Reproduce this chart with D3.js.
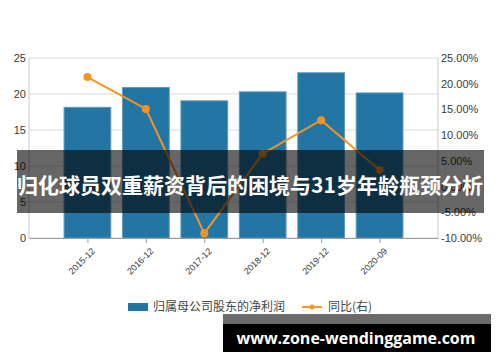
<!DOCTYPE html>
<meta charset="utf-8">
<style>
body { margin: 0; background: white; }
svg { display: block; font-family: "DejaVu Sans", sans-serif; }
.grid line { stroke: #dcdcdc; }
.axis text { fill: #3a3a3a; }
</style>
<body>
<div id="chart"></div>
<script src="https://d3js.org/d3.v7.min.js"></script>
<script>
// data
var periods = ["2015-12", "2016-12", "2017-12", "2018-12", "2019-12", "2020-09"];
var profit = [18.15, 20.9, 19.05, 20.3, 22.95, 20.15];     // 归属母公司股东的净利润
var yoy = [21.3, 15.1, -9.1, 6.4, 12.9, 3.2];                // 同比(右), %
var leftTicks = [0, 5, 10, 15, 20, 25];
var rightTicks = [-10, -5, 0, 5, 10, 15, 20, 25];
var titleText = "归化球员双重薪资背后的困境与31岁年龄瓶颈分析";
var siteText = "www.zone-wendinggame.com";

var width = 500, height = 362;
var margin = {top: 58, right: 62, bottom: 124, left: 29};
var w = width - margin.left - margin.right,
    h = height - margin.top - margin.bottom;

var svg = d3.select("#chart").append("svg")
    .attr("width", width)
    .attr("height", height);

var g = svg.append("g")
    .attr("transform", "translate(" + margin.left + "," + margin.top + ")");

var x = d3.scalePoint().domain(periods).range([0, w]).padding(1);
var barW = x.step() * 0.8;

var y = d3.scaleLinear().domain([0, 25]).range([h, 0]);
var y2 = d3.scaleLinear().domain([-10, 25]).range([h, 0]);

// horizontal grid
g.append("g").attr("class", "grid")
  .selectAll("line").data(leftTicks).enter().append("line")
    .attr("x1", 0).attr("x2", w)
    .attr("y1", d => y(d)).attr("y2", d => y(d));

// side axis lines
g.append("line").attr("x1", 0).attr("x2", 0).attr("y1", 0).attr("y2", h)
  .attr("stroke", "#c8c8c8");
g.append("line").attr("x1", w).attr("x2", w).attr("y1", 0).attr("y2", h)
  .attr("stroke", "#c8c8c8");

// bars
g.selectAll("rect.bar").data(periods).enter().append("rect")
    .attr("class", "bar")
    .attr("x", d => x(d) - barW / 2)
    .attr("width", barW)
    .attr("y", (d, i) => y(profit[i]))
    .attr("height", (d, i) => h - y(profit[i]))
    .attr("fill", "#2376a3")
    .attr("stroke", "#5b9cc0")
    .attr("stroke-width", 1);

// bottom axis
var xAxis = g.append("g").attr("class", "axis")
    .attr("transform", "translate(0," + h + ")")
    .call(d3.axisBottom(x).tickSize(5).tickSizeOuter(0));
xAxis.select(".domain").attr("stroke", "#9a9a9a");
xAxis.selectAll(".tick line").attr("stroke", "#9a9a9a");
xAxis.selectAll("text")
    .style("font-size", "9px")
    .attr("text-anchor", "end")
    .attr("dx", 0).attr("dy", 0)
    .attr("transform", "translate(2,8) rotate(-45)");

// left axis
var yAxis = g.append("g").attr("class", "axis")
    .call(d3.axisLeft(y).tickValues(leftTicks).tickSize(0).tickPadding(3));
yAxis.select(".domain").remove();
yAxis.selectAll("text").style("font-size", "11px");

// right axis
var yAxis2 = g.append("g").attr("class", "axis")
    .attr("transform", "translate(" + w + ",0)")
    .call(d3.axisRight(y2).tickValues(rightTicks).tickSize(0).tickPadding(3)
      .tickFormat(d => d.toFixed(2) + "%"));
yAxis2.select(".domain").remove();
yAxis2.selectAll("text").style("font-size", "11px");

// yoy line
var line = d3.line()
    .x((d, i) => x(periods[i]))
    .y(d => y2(d));
g.append("path").datum(yoy)
    .attr("d", line)
    .attr("fill", "none")
    .attr("stroke", "#f59422")
    .attr("stroke-width", 2);
g.selectAll("circle.pt").data(yoy).enter().append("circle")
    .attr("class", "pt")
    .attr("cx", (d, i) => x(periods[i]))
    .attr("cy", d => y2(d))
    .attr("r", 4)
    .attr("fill", "#f59422");

// legend
var lg = svg.append("g").attr("transform", "translate(128,307)");
lg.append("rect").attr("x", 0).attr("y", -4).attr("width", 20).attr("height", 8)
  .attr("fill", "#2376a3");
lg.append("text").attr("x", 25).attr("y", 4)
  .style("font-family", "'Noto Sans CJK SC', sans-serif")
  .style("font-size", "12px").attr("fill", "#444")
  .text("归属母公司股东的净利润");
lg.append("line").attr("x1", 174).attr("x2", 194).attr("y1", 0).attr("y2", 0)
  .attr("stroke", "#f59422").attr("stroke-width", 2);
lg.append("circle").attr("cx", 184).attr("cy", 0).attr("r", 2.5).attr("fill", "#f59422");
lg.append("text").attr("x", 200).attr("y", 4)
  .style("font-family", "'Noto Sans CJK SC', sans-serif")
  .style("font-size", "12px").attr("fill", "#444")
  .text("同比(右)");

// title banner over the chart
svg.append("rect")
  .attr("x", 17).attr("y", 150).attr("width", 467).attr("height", 63)
  .attr("fill", "#000").attr("fill-opacity", 0.6);
svg.append("text")
  .attr("x", 250).attr("y", 193)
  .attr("text-anchor", "middle")
  .style("font-family", "'Noto Sans CJK SC', sans-serif")
  .style("font-weight", "bold")
  .style("font-size", "21px")
  .attr("fill", "#fff")
  .text(titleText);

// site tag bottom right
svg.append("rect").attr("x", 223).attr("y", 314).attr("width", 268).attr("height", 10)
  .attr("fill", "#6b6b6b");
svg.append("rect").attr("x", 223).attr("y", 324).attr("width", 268).attr("height", 28)
  .attr("fill", "#000");
svg.append("text")
  .attr("x", 356).attr("y", 344)
  .attr("text-anchor", "middle")
  .style("font-family", "'Open Sans', sans-serif")
  .style("font-weight", "bold")
  .style("font-size", "16px")
  .attr("fill", "#fff")
  .text(siteText);
</script>
</body>
